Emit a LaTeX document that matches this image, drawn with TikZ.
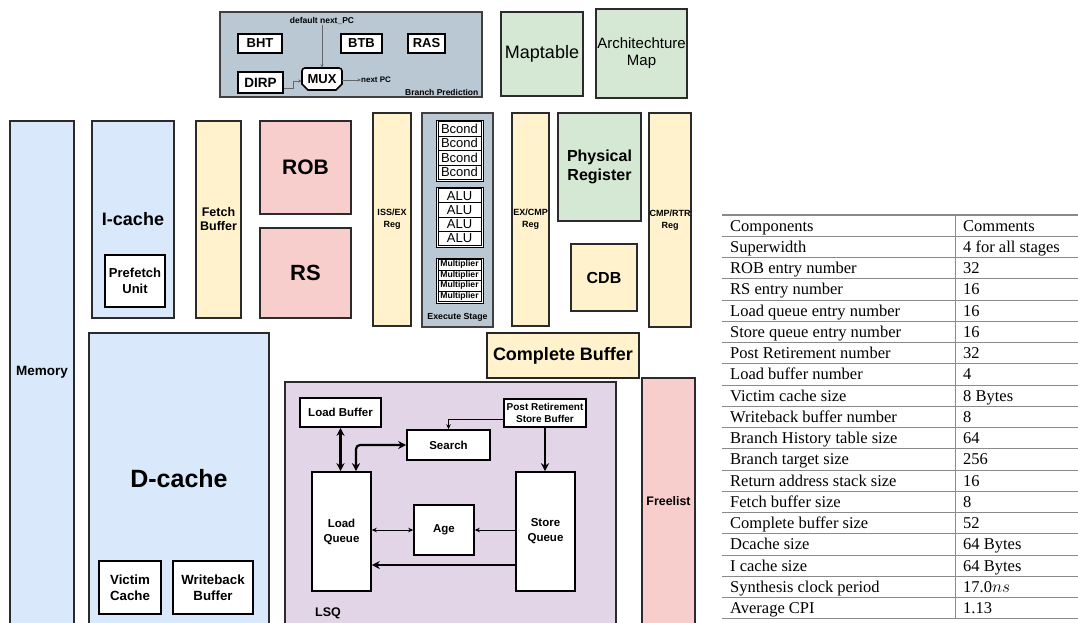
\documentclass[tikz,border=0pt]{standalone}
\usepackage{fontspec}
\setmainfont{Liberation Sans}
\newfontfamily\tabfont{Liberation Serif}
\usetikzlibrary{arrows.meta}
\definecolor{bluef}{HTML}{DAE8FC}
\definecolor{yellowf}{HTML}{FFF2CC}
\definecolor{redf}{HTML}{F8CECC}
\definecolor{greenf}{HTML}{D5E8D4}
\definecolor{grayf}{HTML}{BAC8D3}
\definecolor{purplef}{HTML}{E1D5E7}
\definecolor{edge}{HTML}{2B2B2B}
\definecolor{tabline}{HTML}{8A8A8A}
\newcommand\fs[2]{\fontsize{#1}{#2}\selectfont}
\tikzset{
  box/.style n args={4}{minimum width={((#3)-(#1))*1pt}, minimum height={((#4)-(#2))*1pt},
     at={({((#1)+(#3))/2},{((#2)+(#4))/2})}},
  blk/.style={draw=edge, line width=1.1pt, inner sep=0pt, align=center},
  wbox/.style={blk, fill=white, draw=black, line width=1.6pt},
  unitbox/.style={draw=black, line width=0.9pt, fill=white, inner sep=0pt},
  grayarr/.style={draw=black!60, line width=0.8pt, -{Stealth[length=3.5pt,width=3pt]}},
  thinarr/.style={draw=black, line width=1pt, -{Stealth[length=5pt,width=4.5pt]}},
  thinbi/.style={draw=black, line width=1pt, {Stealth[length=5pt,width=4.5pt]}-{Stealth[length=5pt,width=4.5pt]}},
  thickarr/.style={draw=black, line width=2.2pt, -{Stealth[length=8pt,width=8pt]}},
  thickbi/.style={draw=black, line width=2.2pt, {Stealth[length=8pt,width=8pt]}-{Stealth[length=8pt,width=8pt]}},
  lbl/.style={inner sep=0pt, font=\bfseries\fs{9}{11}},
  tabtext/.style={anchor=base west, inner sep=0pt, font=\tabfont\fs{16.5}{18}}
}
\begin{document}
\begin{tikzpicture}[x=1pt,y=-1pt]
\useasboundingbox (0,0) rectangle (1078,622);
\fill[white] (0,0) rectangle (1078,622);

% ---------- Branch prediction ----------
\node[blk, fill=grayf, draw=black!75, box={220}{12}{482}{97}] (bp) {};
\node[lbl, font=\bfseries\fs{8.5}{10}, anchor=south east] (bplab) at ([xshift=-4pt,yshift=2pt]bp.south east) {Branch Prediction};
\node[wbox, box={238}{34}{282}{53}, font=\bfseries\fs{13}{15}] (bht) {BHT};
\node[wbox, box={341}{34}{382}{53}, font=\bfseries\fs{13}{15}] (btb) {BTB};
\node[wbox, box={408}{34}{445}{53}, font=\bfseries\fs{13}{15}] (ras) {RAS};
\node[wbox, box={238}{72}{283}{93}, font=\bfseries\fs{13.5}{15}] (dirp) {DIRP};
\draw[fill=white, draw=black, line width=1.6pt] (302,84) -- (302,71) [rounded corners=3pt] -- (302,68) -- (342,68) [sharp corners] -- (342,84) -- (336,90) -- (308,90) -- cycle;
\node[inner sep=0pt, box={302}{68}{342}{90}, font=\bfseries\fs{13}{15}] (mux) {MUX};
\node[lbl, font=\bfseries\fs{8.5}{10}] (dnpc) at (322,21) {default next\_PC};
\node[lbl, font=\bfseries\fs{8}{10}, anchor=west] (npc) at (361,80) {next PC};
\draw[grayarr] (dnpc.south) -- (mux.north);
\draw[grayarr] ([yshift=-5.5pt]dirp.east) -- ++(10,0) |- ([yshift=-2pt]mux.west);
\draw[grayarr] ([yshift=-1pt]mux.east) -- (npc.west);

% ---------- Maps ----------
\node[blk, fill=greenf, box={501}{12}{583}{96}, font=\fs{18}{21}] (maptable) {Maptable};
\node[blk, fill=greenf, box={596}{9}{687}{98}, font=\fs{15}{17}] (archmap) {Architechture\\Map};

% ---------- Left column ----------
\node[blk, fill=bluef, box={10}{121}{74}{624}, font=\bfseries\fs{13.5}{16}] (memory) {Memory};
\node[blk, fill=bluef, box={92}{121}{174}{318}, font=\bfseries\fs{18}{21}] (icache) {I-cache};
\node[wbox, box={105}{255}{165}{307}, font=\bfseries\fs{13}{16}] (prefetch) {Prefetch\\Unit};
\node[blk, fill=yellowf, box={196}{121}{241}{318}, font=\bfseries\fs{12.5}{14}] (fetch) {Fetch\\Buffer};
\node[blk, fill=redf, box={260}{121}{351}{214}, font=\bfseries\fs{21}{24}] (rob) {ROB};
\node[blk, fill=redf, box={260}{228}{351}{318}, font=\bfseries\fs{22}{25}] (rs) {RS};
\node[blk, fill=yellowf, box={373}{113}{411}{326}, font=\bfseries\fs{9}{12}] (issex) {ISS/EX\\Reg};

% ---------- Execute stage ----------
\node[blk, fill=grayf, draw=black!75, box={422}{113}{493}{327}] (exec) {};
\node[lbl, font=\bfseries\fs{8.8}{10}, anchor=south] (execlab) at ([yshift=6pt]exec.south) {Execute Stage};
\node[unitbox, box={436}{120}{483}{181}] (bgroup) {};
\foreach \i in {0,1,2,3}{
  \node[unitbox, box={438}{121.5+\i*14.5}{481}{121.5+(\i+1)*14.5}, font=\fs{13}{14}] (bcond\i) {Bcond};
}
\node[unitbox, box={436}{187}{483}{247}] (agroup) {};
\foreach \i in {0,1,2,3}{
  \node[unitbox, box={438}{188.5+\i*14.25}{481}{188.5+(\i+1)*14.25}, font=\fs{13}{14}] (alu\i) {ALU};
}
\node[unitbox, box={436}{258}{483}{303}] (mgroup) {};
\foreach \i in {0,1,2,3}{
  \node[unitbox, box={438}{259.5+\i*10.5}{481}{259.5+(\i+1)*10.5}, font=\bfseries\fs{8.6}{10}] (mul\i) {Multiplier};
}

% ---------- Right of execute ----------
\node[blk, fill=yellowf, box={512}{113}{549}{326}, font=\bfseries\fs{9}{12}] (excmp) {EX/CMP\\Reg};
\node[blk, fill=greenf, box={558}{113}{641}{221}, font=\bfseries\fs{16}{19}] (phys) {Physical\\Register};
\node[blk, fill=yellowf, box={571}{244}{637}{311}, font=\bfseries\fs{16}{19}] (cdb) {CDB};
\node[blk, fill=yellowf, box={649}{113}{691}{327}, font=\bfseries\fs{9}{12}] (cmprtr) {CMP/RTR\\Reg};
\node[blk, fill=yellowf, line width=1.8pt, draw=black!85, box={487}{333}{639}{378}, font=\bfseries\fs{18}{21}] (cbuf) {Complete Buffer};
\node[blk, fill=redf, box={642}{378}{695}{624}, font=\bfseries\fs{12.4}{14}] (freelist) {Freelist};

% ---------- D-cache ----------
\node[blk, fill=bluef, box={89}{333}{269}{624}, font=\bfseries\fs{25}{28}] (dcache) {D-cache};
\node[wbox, box={99}{561}{161}{614}, font=\bfseries\fs{13.3}{16}] (victim) {Victim\\Cache};
\node[wbox, box={173}{561}{253}{614}, font=\bfseries\fs{13.3}{16}] (wbbuf) {Writeback\\Buffer};

% ---------- LSQ ----------
\node[blk, fill=purplef, box={285}{382}{616}{624}] (lsq) {};
\node[lbl, font=\bfseries\fs{12.5}{14}, anchor=west] (lsqlab) at (315,613) {LSQ};
\node[wbox, box={300}{398}{381}{427}, font=\bfseries\fs{11.5}{14}] (lbuf) {Load Buffer};
\node[wbox, box={504}{399}{586}{427}, font=\bfseries\fs{10}{12}] (prsb) {Post Retirement\\Store Buffer};
\node[wbox, box={407}{430}{490}{460}, font=\bfseries\fs{11.5}{14}] (search) {Search};
\node[wbox, box={312}{472}{371}{591}, font=\bfseries\fs{11.5}{15}] (lq) {Load\\Queue};
\node[wbox, box={516}{472}{575}{591}, font=\bfseries\fs{11.5}{15}] (sq) {Store\\Queue};
\node[wbox, box={414}{505}{474}{555}, font=\bfseries\fs{11.5}{14}] (age) {Age};

\draw[thickbi] (lbuf.south) -- (lbuf.south |- lq.north);
\draw[thickbi, rounded corners=4pt] (search.west) -| ([xshift=14.5pt]lq.north);
\draw[thinarr] ([yshift=-6pt]prsb.west) -| (search.north);
\draw[thickarr] (prsb.south) -- (prsb.south |- sq.north);
\draw[thinbi] (age.west -| lq.east) -- (age.west);
\draw[thinarr] (age.east -| sq.west) -- (age.east);
\draw[thickarr] ([yshift=-33.5pt]sq.west) -- ([yshift=-33.5pt]lq.east);

% ---------- Table ----------
\foreach \a/\b [count=\i from 0] in {Components/Comments, Superwidth/4 for all stages, ROB entry number/32, RS entry number/16, Load queue entry number/16, Store queue entry number/16, Post Retirement number/32, Load buffer number/4, Victim cache size/8 Bytes, Writeback buffer number/8, Branch History table size/64, Branch target size/256, Return address stack size/16, Fetch buffer size/8, Complete buffer size/52, Dcache size/64 Bytes, I cache size/64 Bytes, Synthesis clock period/17.0$ns$, Average CPI/1.13}{
  \node[tabtext] (ta\i) at (730,{215+(\i+0.5)*21.25+5.5}) {\a};
  \node[tabtext] (tb\i) at (963,{215+(\i+0.5)*21.25+5.5}) {\b};
  \draw[tabline, line width=0.8pt] (722,{215+(\i+1)*21.25}) -- (1078,{215+(\i+1)*21.25});
}
\draw[tabline, line width=1.3pt] (722,215) -- (1078,215);
\draw[tabline, line width=1.3pt] (722,618.75) -- (1078,618.75);
\draw[tabline, line width=0.8pt] (955,215) -- (955,618.75);
\end{tikzpicture}
\end{document}
